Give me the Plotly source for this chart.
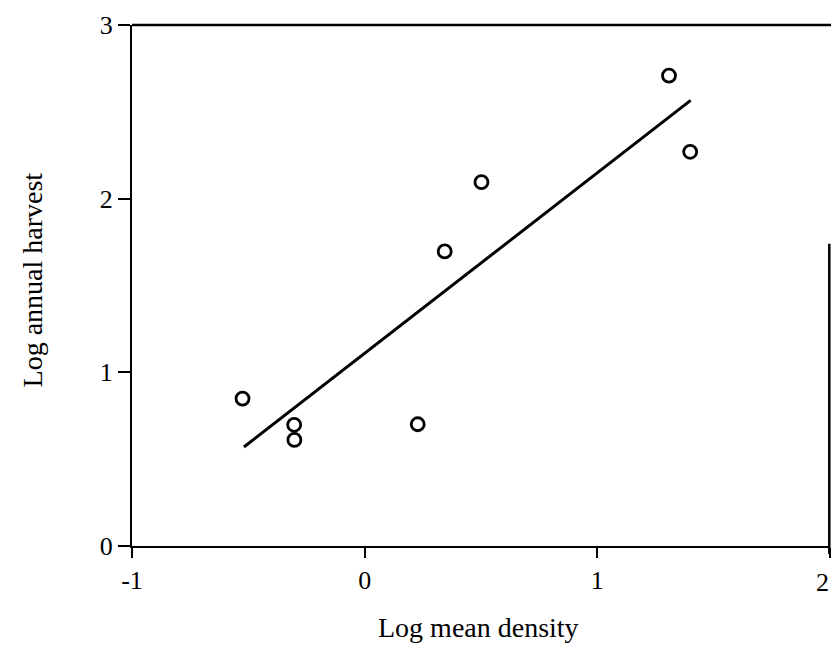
import plotly.graph_objects as go

# Data
log_density = [-0.525, -0.303, -0.302, 0.228, 0.344, 0.502, 1.308, 1.399]
log_harvest = [0.849, 0.698, 0.611, 0.701, 1.696, 2.095, 2.709, 2.270]

fit_x = [-0.519, 1.401]
fit_y = [0.570, 2.566]

x_ticks = [-1, 0, 1, 2]
x_ticktext = ["-1", "0", "1", "2"]
y_ticks = [0, 1, 2, 3]
y_ticktext = ["0", "1", "2", "3"]

FONT = "Liberation Serif, Times New Roman, serif"

fig = go.Figure()
fig.add_trace(go.Scatter(
    x=fit_x, y=fit_y, mode="lines",
    line=dict(color="black", width=3),
    showlegend=False, hoverinfo="skip",
))
fig.add_trace(go.Scatter(
    x=log_density, y=log_harvest, mode="markers",
    marker=dict(symbol="circle-open", size=13, color="black",
                line=dict(color="black", width=2.8)),
    showlegend=False,
))

# the last x tick label sits at the very edge of the page; draw it right-aligned
axis_ticktext = x_ticktext[:-1] + [""]

fig.update_layout(
    width=823, height=635,
    margin=dict(l=124, r=1, t=17, b=97, autoexpand=False),
    paper_bgcolor="white", plot_bgcolor="white",
    font=dict(family=FONT, size=26, color="black"),
    xaxis=dict(
        range=[-1, 2], tickvals=x_ticks, ticktext=axis_ticktext,
        showgrid=False, zeroline=False, automargin=False,
        showline=True, linecolor="black", linewidth=2,
        ticks="outside", ticklen=10, tickwidth=2, tickcolor="black",
        tickfont=dict(family=FONT, size=26, color="black"),
    ),
    yaxis=dict(
        range=[0, 3], tickvals=y_ticks, ticktext=y_ticktext,
        showgrid=False, zeroline=False, automargin=False,
        showline=True, linecolor="black", linewidth=2,
        ticks="outside", ticklen=12, tickwidth=2, tickcolor="black",
        tickfont=dict(family=FONT, size=26, color="black"),
    ),
    shapes=[
        dict(type="line", xref="paper", yref="paper", x0=0, x1=1.01, y0=1, y1=1,
             line=dict(color="black", width=2.5)),
        dict(type="line", xref="paper", yref="paper", x0=0.999, x1=0.999, y0=-0.015, y1=0.58,
             line=dict(color="black", width=2.5)),
    ],
    annotations=[
        dict(text=x_ticktext[-1], xref="paper", yref="paper",
             x=1.0015, y=-0.07, xanchor="right", yanchor="middle", showarrow=False,
             font=dict(family=FONT, size=26, color="black")),
        dict(text="Log mean density", xref="paper", yref="paper",
             x=0.496, y=-0.157, xanchor="center", yanchor="middle", showarrow=False,
             font=dict(family=FONT, size=28, color="black")),
        dict(text="Log annual harvest", xref="paper", yref="paper",
             x=-0.143, y=0.51, xanchor="center", yanchor="middle", showarrow=False,
             textangle=-90, font=dict(family=FONT, size=28, color="black")),
    ],
)

fig.write_html("out.html")
